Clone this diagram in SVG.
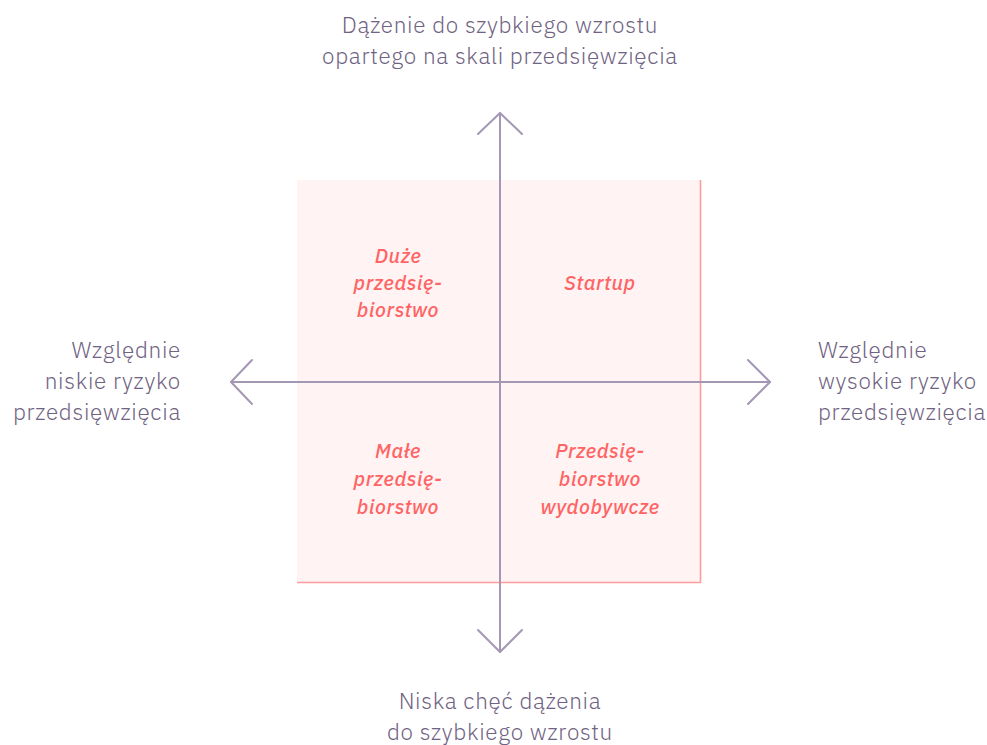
<svg xmlns="http://www.w3.org/2000/svg" width="987" height="745" viewBox="0 0 987 745">
  <style>
    .axis { stroke: #a497b4; stroke-width: 2; fill: none; stroke-linecap: round; stroke-linejoin: round; }
    .lbl { font-family: "IBM Plex Sans", "Open Sans", "Liberation Sans", sans-serif; font-weight: 300; font-size: 22.5px; letter-spacing: 0.7px; fill: #6f6282; }
    .q { font-family: "IBM Plex Sans", "Open Sans", "Liberation Sans", sans-serif; font-weight: 500; font-style: italic; font-size: 20px; letter-spacing: 0.6px; fill: #ff6464; text-anchor: middle; }
  </style>
  <rect width="987" height="745" fill="#ffffff"/>

  <!-- quadrant field -->
  <g id="field">
    <rect x="297" y="180" width="403.5" height="402.5" fill="#fff3f3"/>
    <path d="M700.5 180 V582.5 H297" fill="none" stroke="#ff9c9c" stroke-width="1.6"/>
  </g>

  <!-- axes with open arrowheads -->
  <g id="connectors">
    <path class="axis" d="M500 113 V652"/>
    <path class="axis" d="M478 134 L500 113 L522 134"/>
    <path class="axis" d="M478 630 L500 652 L522 630"/>
    <path class="axis" d="M231 382 H770"/>
    <path class="axis" d="M252 360 L231 382 L252 404"/>
    <path class="axis" d="M748 360 L770 382 L748 404"/>
  </g>

  <!-- quadrant labels -->
  <g id="q-large">
    <text class="q" x="398" y="263">Duże</text>
    <text class="q" x="398" y="290">przedsię-</text>
    <text class="q" x="398" y="317">biorstwo</text>
  </g>
  <g id="q-startup">
    <text class="q" x="600" y="290">Startup</text>
  </g>
  <g id="q-small">
    <text class="q" x="398" y="458">Małe</text>
    <text class="q" x="398" y="486">przedsię-</text>
    <text class="q" x="398" y="514">biorstwo</text>
  </g>
  <g id="q-extractive">
    <text class="q" x="600" y="458">Przedsię-</text>
    <text class="q" x="600" y="486">biorstwo</text>
    <text class="q" x="600" y="514">wydobywcze</text>
  </g>

  <!-- axis labels -->
  <g id="axis-top">
    <text class="lbl" x="500" y="33" text-anchor="middle">Dążenie do szybkiego wzrostu</text>
    <text class="lbl" x="500" y="64" text-anchor="middle">opartego na skali przedsięwzięcia</text>
  </g>
  <g id="axis-bottom">
    <text class="lbl" x="500" y="709" text-anchor="middle">Niska chęć dążenia</text>
    <text class="lbl" x="500" y="740" text-anchor="middle">do szybkiego wzrostu</text>
  </g>
  <g id="axis-left">
    <text class="lbl" x="181" y="358" text-anchor="end">Względnie</text>
    <text class="lbl" x="181" y="389" text-anchor="end">niskie ryzyko</text>
    <text class="lbl" x="181" y="420" text-anchor="end">przedsięwzięcia</text>
  </g>
  <g id="axis-right">
    <text class="lbl" x="818" y="358">Względnie</text>
    <text class="lbl" x="818" y="389">wysokie ryzyko</text>
    <text class="lbl" x="818" y="420">przedsięwzięcia</text>
  </g>
</svg>
